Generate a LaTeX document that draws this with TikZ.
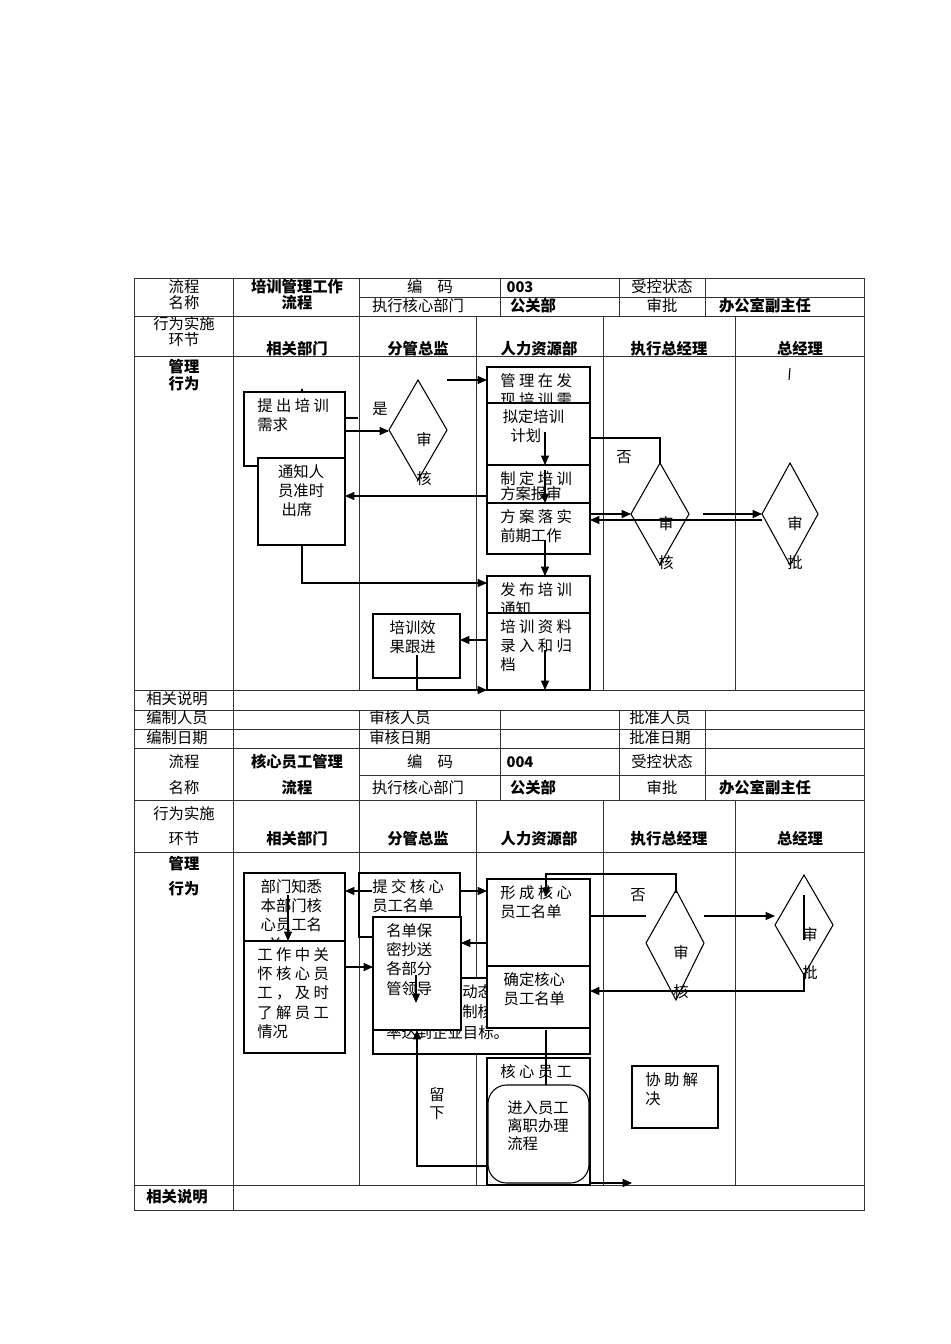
\documentclass[tikz,border=0pt]{standalone}
\usepackage{fontspec}
\setmainfont{Noto Sans CJK SC}
\usetikzlibrary{arrows.meta}
\newcommand\cbx[6]{% name x1 y1 x2 y2 text
\fill[white] (#2,#3) rectangle (#4,#5);
\begin{scope}\clip (#2,#3) rectangle (#4,#5);
\node[anchor=north west,align=left,inner sep=0pt,font=\fontsize{11.5}{14.5}\selectfont] at (#2+13,#3+6) {#6};
\end{scope}
\coordinate (#1) at (#2,#3);
\draw[line width=.8pt] (#2,#3) rectangle (#4,#5);}
\begin{document}
\begin{tikzpicture}[x=0.75pt,y=-0.75pt,
 tl/.style={line width=.6pt,draw=black!80},
 ln/.style={line width=.8pt},
 ar/.style={line width=.8pt,-{Triangle[length=7pt,width=6pt]}},
 t/.style={font=\fontsize{11.5}{13.5}\selectfont,inner sep=0pt,align=center},
 b/.style={t,font=\fontsize{11.5}{13.5}\selectfont\bfseries},
 dia/.style={line width=.8pt}]
\useasboundingbox (0,0) rectangle (950,1344);
% ===== top table =====
\draw[tl] (134,278) rectangle (864,748);
\foreach \y in {316,356,690,710,729} \draw[tl] (134,\y)--(864,\y);
\draw[tl] (359,297)--(864,297);
\foreach \x in {233,359,500,619,705} \draw[tl] (\x,278)--(\x,316);
\foreach \x in {233,359,476,603,735} \draw[tl] (\x,316)--(\x,690);
\draw[tl] (233,690)--(233,748);
\foreach \x in {359,500,619,705} \draw[tl] (\x,710)--(\x,748);
\node[t] (a1) at (184,287) {流程}; \node[t] (a2) at (184,303) {名称};
\node[b] (a3) at (297,287) {培训管理工作}; \node[b] (a4) at (297,303) {流程};
\node[t] (a5) at (430,287) {编\quad 码}; \node[b,font=\bfseries\fontsize{11}{13}\selectfont] (a6) at (520,287) {003};
\node[t] (a7) at (662,287) {受控状态};
\node[t] (a8) at (418,306) {执行核心部门}; \node[b] (a9) at (533,306) {公关部};
\node[t] (a10) at (662,306) {审批}; \node[b] (a11) at (765,306) {办公室副主任};
\node[t] (a12) at (184,324) {行为实施}; \node[t] (a13) at (184,340) {环节};
\node[b] (h1) at (297,349) {相关部门}; \node[b] (h2) at (418,349) {分管总监};
\node[b] (h3) at (539,349) {人力资源部}; \node[b] (h4) at (669,349) {执行总经理};
\node[b] (h5) at (800,349) {总经理};
\node[b] (m1) at (184,367) {管理}; \node[b] (m2) at (184,384) {行为};
\node[t] (r1) at (177,699) {相关说明};
\node[t] (r2) at (177,718) {编制人员}; \node[t] (r3) at (400,718) {审核人员}; \node[t] (r4) at (660,718) {批准人员};
\node[t] (r5) at (177,738) {编制日期}; \node[t] (r6) at (400,738) {审核日期}; \node[t] (r7) at (660,738) {批准日期};
% flow top
\draw[ar] (302,392)--(302,388);
\cbx{p1}{244}{392}{345}{466}{提\ 出\ 培\ 训\\需求}
\cbx{p2}{258}{458}{345}{545}{\ \ 通知人\\\ \ 员准时\\\ \ \ 出席}
\draw[dia] (418,380)--(447,430)--(418,480)--(389,430)--cycle;
\node[t] (d1a) at (424,440) {审}; \node[t] (d1b) at (424,479) {核};
\node[t] (yes) at (380,409) {是};
\draw[ln] (345,418)--(358,418);
\draw[ar] (345,431)--(389,431);
\draw[ar] (447,380)--(487,380);
\cbx{q1}{487}{367}{590}{403}{管\ 理\ 在\ 发\\现\ 培\ 训\ 需}
\cbx{q2}{487}{403}{590}{465}{\,拟定培训\\\ \ \ 计划}
\cbx{q3}{487}{465}{590}{503}{制\ 定\ 培\ 训\\[-3pt]方案报审}
\cbx{q4}{487}{503}{590}{554}{方\ 案\ 落\ 实\\前期工作}
\cbx{q5}{487}{576}{590}{613}{发\ 布\ 培\ 训\\通知}
\cbx{q6}{487}{613}{590}{690}{培\ 训\ 资\ 料\\录\ 入\ 和\ 归\\档}
\cbx{p3}{373}{614}{460}{678}{\ 培训效\\\ 果跟进}
\draw[ar] (545,432)--(545,465);
\draw[ar] (545,470)--(545,503);
\draw[ar] (545,540)--(545,576);
\draw[ar] (487,496)--(345,496);
\draw[ar] (302,545)--(302,583)--(487,583);
\draw[ar] (487,640)--(460,640);
\draw[ar] (417,655)--(417,690)--(487,690);
\draw[ar] (545,650)--(545,690);
\draw[ln] (590,438)--(660,438)--(660,463);
\draw[dia] (660,463)--(689,514)--(660,565)--(631,514)--cycle;
\node[t] (no1) at (624,457) {否};
\node[t] (d2a) at (666,524) {审}; \node[t] (d2b) at (666,563) {核};
\draw[ar] (590,514)--(631,514);
\draw[ar] (762,520)--(590,520);
\draw[ar] (703,514)--(762,514);
\draw[dia] (790,463)--(818,514)--(790,565)--(762,514)--cycle;
\node[t] (d3a) at (795,524) {审}; \node[t] (d3b) at (795,563) {批};
\draw[ln] (790,368)--(789,380);
% ===== bottom table =====
\draw[tl] (134,748) rectangle (864,1210);
\foreach \y in {800,852,1185} \draw[tl] (134,\y)--(864,\y);
\draw[tl] (359,775)--(864,775);
\foreach \x in {233,359,500,619,705} \draw[tl] (\x,748)--(\x,800);
\foreach \x in {233,359,476,603,735} \draw[tl] (\x,800)--(\x,1185);
\draw[tl] (233,1185)--(233,1210);
\node[t] (c1) at (184,762) {流程}; \node[t] (c2) at (184,788) {名称};
\node[b] (c3) at (297,762) {核心员工管理}; \node[b] (c4) at (297,788) {流程};
\node[t] (c5) at (430,762) {编\quad 码}; \node[b,font=\bfseries\fontsize{11}{13}\selectfont] (c6) at (520,762) {004};
\node[t] (c7) at (662,762) {受控状态};
\node[t] (c8) at (418,788) {执行核心部门}; \node[b] (c9) at (533,788) {公关部};
\node[t] (c10) at (662,788) {审批}; \node[b] (c11) at (765,788) {办公室副主任};
\node[t] (c12) at (184,814) {行为实施}; \node[t] (c13) at (184,839) {环节};
\node[b] (k1) at (297,839) {相关部门}; \node[b] (k2) at (418,839) {分管总监};
\node[b] (k3) at (539,839) {人力资源部}; \node[b] (k4) at (669,839) {执行总经理};
\node[b] (k5) at (800,839) {总经理};
\node[b] (n1) at (184,864) {管理}; \node[b] (n2) at (184,889) {行为};
\node[b] (n3) at (177,1197) {相关说明};
% flow bottom
\cbx{s1}{244}{873}{345}{941}{\ 部门知悉\\\ 本部门核\\\ 心员工名\\\ \ \ 单}
\cbx{s2}{244}{941}{345}{1053}{工\ 作\ 中\ 关\\怀\ 核\ 心\ 员\\工\ ，\ 及\ 时\\了\ 解\ 员\ 工\\情况}
\draw[ar] (288,895)--(288,941);
\cbx{u1}{359}{873}{460}{937}{提\ 交\ 核\ 心\\员工名单}
\cbx{u0}{373}{978}{590}{1054}{\hspace{57pt}动态\\[1pt]\hspace{57pt}制核\\[1pt]率达到企业目标。}
\cbx{u2}{373}{917}{461}{1030}{名单保\\密抄送\\各部分\\管领导}
\draw[ar] (416,975)--(416,1003);
\draw[ar] (372,891)--(345,891);
\draw[ar] (460,891)--(487,891);
\draw[ar] (345,967)--(373,967);
\cbx{v1}{487}{879}{590}{966}{形\ 成\ 核\ 心\\员工名单}
\cbx{v2}{487}{966}{590}{1028}{\ 确定核心\\\ 员工名单}
\draw[ar] (487,943)--(461,943);
\draw[ar] (676,893)--(676,874)--(546,874)--(546,897);
\draw[ln] (590,916)--(646,916);
\draw[dia] (676,890)--(704,943)--(676,1000)--(646,943)--cycle;
\node[t] (no2) at (638,895) {否};
\node[t] (e2a) at (681,953) {审}; \node[t] (e2b) at (681,992) {核};
\draw[ar] (704,916)--(775,916);
\draw[dia] (804,875)--(833,925)--(804,975)--(775,925)--cycle;
\draw[ln] (804,895)--(804,940);
\node[t] (e3a) at (810,935) {审}; \node[t] (e3b) at (810,973) {批};
\draw[ar] (804,975)--(804,991)--(590,991);
\cbx{w1}{487}{1058}{590}{1185}{核\ 心\ 员\ 工}
\draw[line width=.8pt,fill=white,rounded corners=14pt] (488,1085) rectangle (589,1183);
\node[t,align=left] (w2) at (538,1126) {进入员工\\离职办理\\流程};
\draw[ln] (546,1030)--(546,1085);
\draw[ar] (488,1166)--(417,1166)--(417,1030);
\node[t] (stay) at (437,1104) {留\\下};
\draw[ar] (590,1183)--(632,1183);
\cbx{x1}{632}{1066}{718}{1128}{协\ 助\ 解\\决}
\end{tikzpicture}
\end{document}
